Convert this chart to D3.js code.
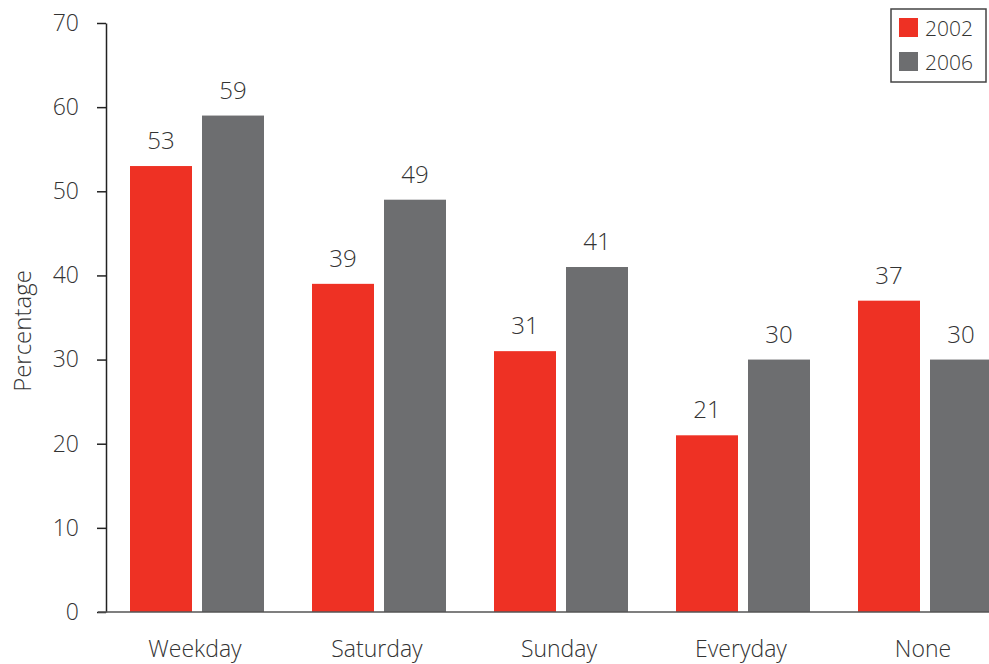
<!DOCTYPE html>
<html>
<head>
<meta charset="utf-8">
<script src="https://cdn.jsdelivr.net/npm/d3@7"></script>
<style>
  html, body { margin: 0; padding: 0; background: #fff; }
  svg { display: block; font-family: "Open Sans", "Noto Sans", sans-serif; font-weight: 300; }
</style>
</head>
<body>
<svg id="chart" width="989" height="664"></svg>
<script>
// Share of respondents by day type, two survey years
const categories = ["Weekday", "Saturday", "Sunday", "Everyday", "None"];
const series = ["2002", "2006"];
const values2002 = [53, 39, 31, 21, 37];
const values2006 = [59, 49, 41, 30, 30];
const yTicks = [0, 10, 20, 30, 40, 50, 60, 70];
const colors = ["#ee3124", "#6d6e70"];

const svg = d3.select("#chart");
const left = 106, baseY = 612, topY = 23;

const x0 = d3.scaleBand().domain(categories).range([left, left + 182 * categories.length]).paddingInner(0).paddingOuter(0);
const x1 = d3.scaleBand().domain(series).range([24, 182 - 24]).paddingInner(10 / 72).paddingOuter(0);
const y = d3.scaleLinear().domain([0, 70]).range([baseY, topY]);

const rows = categories.map((c, i) => ({ cat: c, vals: [values2002[i], values2006[i]] }));

// bars
const groups = svg.append("g").selectAll("g").data(rows).join("g")
  .attr("transform", d => `translate(${x0(d.cat)},0)`);

groups.selectAll("rect").data(d => d.vals.map((v, j) => ({ s: series[j], v, j })))
  .join("rect")
  .attr("x", d => x1(d.s))
  .attr("width", x1.bandwidth())
  .attr("y", d => y(d.v))
  .attr("height", d => baseY - y(d.v))
  .attr("fill", d => colors[d.j]);

// value labels
groups.selectAll("text.val").data(d => d.vals.map((v, j) => ({ s: series[j], v, j })))
  .join("text")
  .attr("class", "val")
  .attr("x", d => x1(d.s) + x1.bandwidth() / 2)
  .attr("y", d => y(d.v) - 17)
  .attr("text-anchor", "middle")
  .attr("font-size", 24)
  .attr("fill", "#333")
  .text(d => d.v);

// y axis
const yAxis = d3.axisLeft(y).tickValues(yTicks).tickSize(9).tickPadding(18).tickSizeOuter(0);
const gy = svg.append("g").attr("transform", `translate(${left},0)`).call(yAxis);
gy.select(".domain").attr("stroke", "#222").attr("stroke-width", 1.5);
gy.selectAll(".tick line").attr("stroke", "#222").attr("stroke-width", 1.5);
gy.selectAll(".tick text").attr("font-size", 23).attr("fill", "#333")
  .attr("font-family", "'Open Sans', 'Noto Sans', sans-serif").attr("font-weight", 300);

// x baseline and category labels
svg.append("line").attr("x1", 98).attr("x2", 989).attr("y1", baseY).attr("y2", baseY)
  .attr("stroke", "#555").attr("stroke-width", 1.5);

svg.append("g").selectAll("text").data(categories).join("text")
  .attr("x", d => x0(d) + x0.bandwidth() / 2 - 2)
  .attr("y", 657)
  .attr("text-anchor", "middle")
  .attr("font-size", 23)
  .attr("fill", "#333")
  .text(d => d);

// y axis title
svg.append("text")
  .attr("transform", "translate(31,331) rotate(-90)")
  .attr("text-anchor", "middle")
  .attr("font-size", 24)
  .attr("fill", "#333")
  .text("Percentage");

// legend
const lg = svg.append("g");
lg.append("rect").attr("x", 891).attr("y", 9).attr("width", 95).attr("height", 73)
  .attr("fill", "#fff").attr("stroke", "#444").attr("stroke-width", 1.5);
series.forEach((s, i) => {
  lg.append("rect").attr("x", 899).attr("y", 18 + i * 34).attr("width", 19).attr("height", 19).attr("fill", colors[i]);
  lg.append("text").attr("x", 925).attr("y", 36 + i * 34).attr("font-size", 21).attr("fill", "#333").text(s);
});
</script>
</body>
</html>
